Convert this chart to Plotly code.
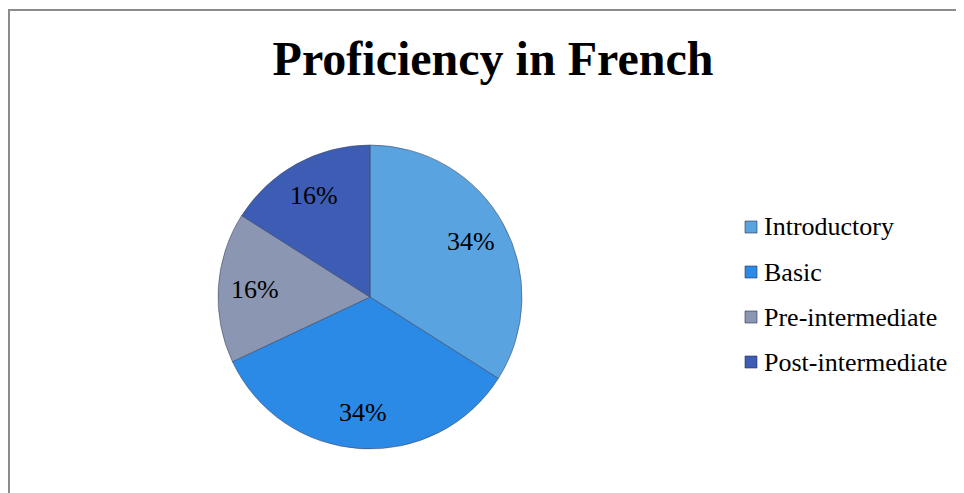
import math
import plotly.graph_objects as go

categories = ["Introductory", "Basic", "Pre-intermediate", "Post-intermediate"]
values = [34, 34, 16, 16]
colors = ["#59a3e0", "#2b8ae6", "#8a96b2", "#3d5cb4"]

# page body has an 8px margin; work in page coordinates and convert
OFF = 8
W, H = 964 - OFF, 493 - OFF


def px(x):
    return (x - OFF) / W


def py(y):
    return 1 - (y - OFF) / H


cx, cy, r = 370, 297, 152

fig = go.Figure(go.Pie(
    labels=categories,
    values=values,
    sort=False,
    direction="clockwise",
    rotation=0,
    marker=dict(colors=colors, line=dict(color="rgba(60,70,95,0.55)", width=1)),
    textinfo="none",
    hoverinfo="label+percent",
    showlegend=False,
    domain=dict(x=[px(cx - r), px(cx + r)], y=[py(cy + r), py(cy - r)]),
))

annotations = []
shapes = [
    dict(type="line", xref="paper", yref="paper", x0=px(8), x1=1, y0=py(10), y1=py(10),
         line=dict(color="#8c8c8c", width=2)),
    dict(type="line", xref="paper", yref="paper", x0=px(9), x1=px(9), y0=0, y1=py(10),
         line=dict(color="#8c8c8c", width=2)),
]

# data labels at mid-angle of each slice (clockwise from 12 o'clock)
total = sum(values)
cum = 0.0
for v in values:
    mid = (cum + v / 2) / total * 2 * math.pi
    cum += v
    lx = cx + 0.76 * r * math.sin(mid)
    ly = cy - 0.76 * r * math.cos(mid)
    annotations.append(dict(text=f"{v}%", xref="paper", yref="paper", x=px(lx), y=py(ly),
                            xanchor="center", yanchor="middle", showarrow=False,
                            font=dict(family="Liberation Serif", size=26, color="#000000")))

# legend
leg_x_box, leg_x_text, leg_y0, leg_dy, box = 745, 762, 227, 45, 12
for i, (name, col) in enumerate(zip(categories, colors)):
    yc = leg_y0 + i * leg_dy
    shapes.append(dict(type="rect", xref="paper", yref="paper",
                       x0=px(leg_x_box), x1=px(leg_x_box + box),
                       y0=py(yc + box / 2), y1=py(yc - box / 2),
                       fillcolor=col, line=dict(color="rgba(40,50,80,0.6)", width=1)))
    annotations.append(dict(text=name, xref="paper", yref="paper", x=px(leg_x_text), y=py(yc),
                            xanchor="left", yanchor="middle", showarrow=False,
                            font=dict(family="Liberation Serif", size=26, color="#000000")))

fig.update_layout(
    width=W, height=H,
    margin=dict(l=0, r=0, t=0, b=0),
    paper_bgcolor="white",
    title=dict(text="<b>Proficiency in French</b>", x=px(493), xanchor="center",
               y=py(58), yanchor="middle",
               font=dict(family="Liberation Serif", size=48, color="#000000")),
    shapes=shapes,
    annotations=annotations,
)

fig.write_html("out.html")
